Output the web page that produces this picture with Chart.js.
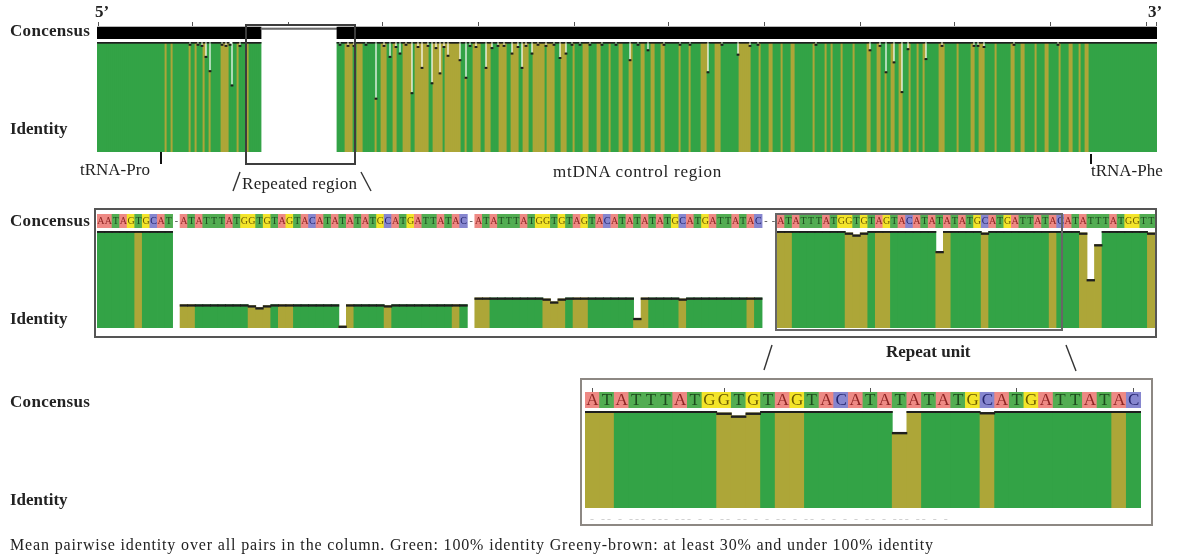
<!DOCTYPE html>
<html lang="en">
<head>
<meta charset="UTF-8">
<title>mtDNA control region identity</title>
<style>
    body { margin: 0; background: #fff; font-family: "Liberation Serif", "Times New Roman", serif; color: #222; }
    #page { position: relative; width: 1180px; height: 557px; overflow: hidden; }
    canvas { position: absolute; }
    .lbl { position: absolute; white-space: nowrap; line-height: 20px; font-size: 17px; }
    .b { font-weight: bold; }
    .box { position: absolute; box-sizing: border-box; }
    svg { position: absolute; left: 0; top: 0; }
</style>
</head>
<body>
<div id="page">
    <canvas id="ovCons" width="1060" height="17" style="left:97px;top:22px"></canvas>
    <canvas id="ovId" width="1060" height="110" style="left:97px;top:42px"></canvas>
    <canvas id="p2Cons" width="1058" height="14" style="left:97px;top:214px"></canvas>
    <canvas id="p2Id" width="1058" height="97" style="left:97px;top:231px"></canvas>
    <canvas id="p3Cons" width="556" height="20" style="left:585px;top:388px"></canvas>
    <canvas id="p3Id" width="556" height="97" style="left:585px;top:411px"></canvas>

    <div class="box" style="left:245px;top:24px;width:111px;height:141px;border:2px solid #3d3d3d"></div>
    <div class="box" style="left:94px;top:208px;width:1063px;height:130px;border:2px solid #555"></div>
    <div class="box" style="left:775px;top:213px;width:288px;height:118px;border:2px solid #666"></div>
    <div class="box" style="left:580px;top:378px;width:573px;height:148px;border:2px solid #8d8883"></div>

    <svg width="1180" height="557">
        <g stroke="#333" stroke-width="1.4" fill="none">
            <line x1="240" y1="172" x2="233" y2="191"/>
            <line x1="361" y1="172" x2="371" y2="191"/>
            <line x1="772" y1="345" x2="764" y2="370"/>
            <line x1="1066" y1="345" x2="1076" y2="371"/>
        </g>
        <g stroke="#111" stroke-width="2">
            <line x1="161" y1="152" x2="161" y2="164"/>
            <line x1="1091" y1="154" x2="1091" y2="164"/>
        </g>
    </svg>

    <div class="lbl b" style="left:95px;top:2px">5’</div>
    <div class="lbl b" style="left:1148px;top:2px">3’</div>
    <div class="lbl b" style="left:10px;top:21px;letter-spacing:0.3px">Concensus</div>
    <div class="lbl b" style="left:10px;top:119px">Identity</div>
    <div class="lbl" style="left:80px;top:160px">tRNA-Pro</div>
    <div class="lbl" style="left:242px;top:174px;letter-spacing:0.3px">Repeated region</div>
    <div class="lbl" style="left:553px;top:162px;letter-spacing:0.75px">mtDNA control region</div>
    <div class="lbl" style="left:1091px;top:161px">tRNA-Phe</div>
    <div class="lbl b" style="left:10px;top:211px;letter-spacing:0.3px">Concensus</div>
    <div class="lbl b" style="left:10px;top:309px">Identity</div>
    <div class="lbl b" style="left:886px;top:342px">Repeat unit</div>
    <div class="lbl b" style="left:10px;top:392px;letter-spacing:0.3px">Concensus</div>
    <div class="lbl b" style="left:10px;top:490px">Identity</div>
    <div class="lbl" style="left:590px;top:509px;font-size:12px;color:#cfcfcf;letter-spacing:2px">-  --  -  ---  ---  ---  -   -   --   --  -   -  --  -  --  -  -   -  -  --  -  ---  --  -   -</div>
    <div class="lbl" style="left:10px;top:535px;font-size:16px;letter-spacing:0.85px">Mean pairwise identity over all pairs in the column. Green: 100% identity Greeny-brown: at least 30% and under 100% identity</div>
</div>

<script src="https://cdn.jsdelivr.net/npm/chart.js"></script>
<script>
    // column classes: G = 100% identity, O = at least 30% and under 100%, '-' = gap in consensus
    const FILL = { G: '#33a346', O: '#ada638' };
    const baseFill = { A: '#ee8984', T: '#52ad52', G: '#f3e42a', C: '#8686cf' };
    const baseInk = { A: '#8e2422', T: '#1d4a1d', G: '#6a5a00', C: '#25256e' };

    // overview: runs of [class, number of columns], read left to right
    const overviewRuns = [
        ['G',34],['O',1],['G',2],['O',1],['G',8],['O',1],['G',2],['O',1],['G',3],['O',1],['G',2],['O',1],['G',5],['O',4],['G',4],['O',1],['G',4],['O',1],['G',6],
        ['-',38],
        ['G',4],['O',4],['G',2],['O',3],['G',6],['O',1],['G',2],['O',3],['G',3],['O',2],['G',3],['O',4],['G',2],['O',7],['G',2],['O',5],['G',1],['O',3],
        ['O',5],['G',2],['O',1],['G',3],['O',4],['G',2],['O',3],['G',4],['O',4],['G',2],['O',4],['G',2],['O',3],['G',2],['O',6],['G',1],
        ['O',4],['G',3],['O',3],['G',3],['O',1],['G',4],['O',3],['G',4],['O',2],['G',4],['O',1],['G',4],['O',2],['G',3],['O',2],['G',4],
        ['O',2],['G',3],['O',2],['G',3],['O',2],['G',7],['O',1],['G',4],['O',1],['G',5],['O',3],['G',4],['O',3],['G',9],['O',6],['G',4],
        ['O',1],['G',4],['O',2],['G',4],['O',1],['G',4],['O',2],['G',4],
        ['G',5],['O',1],['G',5],['O',1],['G',2],['O',1],['G',4],['O',1],['G',5],['O',1],['G',6],['O',2],['G',3],['O',2],['G',2],['O',1],
        ['G',2],['O',2],['G',2],['O',2],['G',3],['O',1],['G',3],['O',1],['G',2],['O',1],['G',7],['O',3],['G',6],['O',1],['G',6],['O',2],
        ['G',2],['O',3],['G',5],['O',1],['G',7],['O',2],['G',3],['O',2],['G',5],['O',1],['G',4],['O',2],['G',5],['O',1],['G',4],['O',2],
        ['G',3],['O',1],['G',2],['O',2],['G',34]
    ];
    // overview columns below 100% mean identity: [column, identity]
    const overviewDips = [
        [46,0.98],[50,0.98],[52,0.97],[54,0.87],[56,0.74],[62,0.98],[64,0.97],[66,0.98],[67,0.61],[71,0.97],
        [121,0.98],[125,0.97],[128,0.97],[134,0.98],[139,0.49],[143,0.97],[146,0.87],[149,0.96],[151,0.9],[154,0.98],
        [157,0.54],[160,0.96],[162,0.77],[165,0.97],[167,0.63],[169,0.95],[171,0.72],[173,0.96],[175,0.88],
        [181,0.84],[184,0.68],[186,0.97],[189,0.96],[194,0.77],[197,0.95],[200,0.97],[203,0.97],[207,0.9],[210,0.96],
        [212,0.77],[214,0.97],[217,0.9],[220,0.98],[224,0.97],[228,0.98],[231,0.86],[234,0.9],[237,0.98],[241,0.98],
        [246,0.98],[252,0.98],[259,0.98],[266,0.84],[270,0.98],[275,0.93],[283,0.98],[291,0.98],[296,0.98],[305,0.73],
        [312,0.98],[320,0.89],[326,0.97],[330,0.98],
        [359,0.98],[386,0.93],[391,0.97],[394,0.73],[398,0.82],[402,0.55],[405,0.94],[414,0.85],[422,0.97],
        [438,0.97],[440,0.97],[443,0.96],[458,0.98],[480,0.98]
    ];
    // ruler above the overview consensus, in alignment positions (bp)
    const alignmentLength = 1112;
    const rulerTicks = [0, 100, 200, 300, 400, 500, 600, 700, 800, 900, 1000, 1100, 1112];

    // repeated region, zoomed
    const p2Consensus = 'AATAGTGCAT-ATATTTATGGTGTAGTACATATATATGCATGATTATAC-ATATTTATGGTGTAGTACATATATATGCATGATTATAC--ATATTTATGGTGTAGTACATATATATGCATGATTATACATATTTATGGTT';
    const p2Classes = 'GGGGGOGGGG-OOGGGGGGGOOOGOOGGGGGGOOGGGGOGGGGGGGGOG-OOGGGGGGGOOOGOOGGGGGGOOGGGGOGGGGGGGGOG--OOGGGGGGGOOOGOOGGGGGGOOGGGGOGGGGGGGGOGGGOOOGGGGGGO';
    const p2Identity = [
        1, 1, 1, 1, 1, 1, 1, 1, 1, 1,
        null,
        0.24, 0.24, 0.24, 0.24, 0.24, 0.24, 0.24, 0.24, 0.24, 0.23, 0.21, 0.23, 0.24, 0.24, 0.24, 0.24, 0.24, 0.24, 0.24,
        0.24, 0.24, 0.02, 0.24, 0.24, 0.24, 0.24, 0.24, 0.23, 0.24, 0.24, 0.24, 0.24, 0.24, 0.24, 0.24, 0.24, 0.24, 0.24,
        null,
        0.31, 0.31, 0.31, 0.31, 0.31, 0.31, 0.31, 0.31, 0.31, 0.30, 0.27, 0.30, 0.31, 0.31, 0.31, 0.31, 0.31, 0.31, 0.31,
        0.31, 0.31, 0.10, 0.31, 0.31, 0.31, 0.31, 0.31, 0.30, 0.31, 0.31, 0.31, 0.31, 0.31, 0.31, 0.31, 0.31, 0.31, 0.31,
        null, null,
        1, 1, 1, 1, 1, 1, 1, 1, 1, 0.98, 0.96, 0.98, 1, 1, 1, 1, 1, 1, 1,
        1, 1, 0.79, 1, 1, 1, 1, 1, 0.98, 1, 1, 1, 1, 1, 1, 1, 1, 1, 1,
        1, 1, 0.98, 0.5, 0.86, 1, 1, 1, 1, 1, 1, 0.98
    ];

    // repeat unit, zoomed
    const p3Consensus = 'ATATTTATGGTGTAGTACATATATATGCATGATTATAC';
    const p3Classes = 'OOGGGGGGGOOOGOOGGGGGGOOGGGGOGGGGGGGGOG';
    const p3Identity = [
        1, 1, 1, 1, 1, 1, 1, 1, 1, 0.98, 0.95, 0.98, 1, 1, 1, 1, 1, 1, 1,
        1, 1, 0.78, 1, 1, 1, 1, 1, 0.985, 1, 1, 1, 1, 1, 1, 1, 1, 1, 1
    ];
    const p3RulerTicks = [1, 10, 20, 30, 38];

    const ovClasses = [];
    overviewRuns.forEach(([c, n]) => { for (let k = 0; k < n; k++) ovClasses.push(c); });
    const ovIdentity = ovClasses.map(c => (c === '-' ? null : 1));
    overviewDips.forEach(([i, v]) => { ovIdentity[i] = v; });
    // column that each ruler position falls in
    const ovRulerCols = rulerTicks.map(bp => Math.min(ovClasses.length - 1, Math.floor(bp / alignmentLength * ovClasses.length)));

    const baseOptions = () => ({
        responsive: false,
        animation: false,
        events: [],
        layout: { padding: 0 },
        plugins: { legend: { display: false }, tooltip: { enabled: false } },
        scales: {
            x: { display: false },
            y: { display: false, min: 0, max: 1 }
        }
    });

    // top axis that only shows tick marks at the given columns
    const rulerAxis = (cols, len) => ({
        display: true,
        position: 'top',
        afterFit: s => { s.height = len; },
        ticks: { display: false },
        grid: {
            offset: false,
            drawOnChartArea: false,
            drawTicks: true,
            tickLength: len,
            lineWidth: 1,
            color: ctx => (cols.includes(ctx.index) ? '#555' : 'rgba(0,0,0,0)')
        },
        border: { display: false }
    });

    // draws the consensus letters at the centre of each column
    const letterPlugin = {
        id: 'letters',
        afterDatasetsDraw(chart, args, opts) {
            const { ctx, chartArea } = chart;
            const x = chart.scales.x;
            const yMid = (chartArea.top + chartArea.bottom) / 2 + (opts.dy || 0);
            ctx.save();
            ctx.font = opts.font;
            ctx.textAlign = 'center';
            ctx.textBaseline = 'middle';
            for (let i = 0; i < opts.seq.length; i++) {
                const c = opts.seq[i];
                ctx.fillStyle = c === '-' ? '#444' : baseInk[c];
                ctx.fillText(c, x.getPixelForValue(i), yMid);
            }
            ctx.restore();
        }
    };

    // identity bars plus a thin dark mark sitting on the top of each bar
    function identityChart(id, classes, values, markPx, heightPx) {
        const cls = Array.from(classes);
        const t = markPx / heightPx;
        return new Chart(document.getElementById(id), {
            type: 'bar',
            data: {
                labels: cls.map((c, i) => i + 1),
                datasets: [{
                    data: values,
                    backgroundColor: cls.map(c => FILL[c] || 'rgba(0,0,0,0)'),
                    borderWidth: 0,
                    grouped: false,
                    order: 2,
                    categoryPercentage: 1,
                    barPercentage: 1,
                    inflateAmount: 0.4
                }, {
                    data: values.map(v => (v === null ? null : [v - t, v])),
                    backgroundColor: '#1e1e1e',
                    borderWidth: 0,
                    grouped: false,
                    order: 1,
                    categoryPercentage: 1,
                    barPercentage: 1,
                    inflateAmount: 0.4
                }]
            },
            options: baseOptions()
        });
    }

    function sequenceChart(id, seq, font, xAxis) {
        const s = Array.from(seq);
        const opts = baseOptions();
        opts.plugins.letters = { seq: s, font: font, dy: 0.5 };
        if (xAxis) opts.scales.x = xAxis;
        return new Chart(document.getElementById(id), {
            type: 'bar',
            data: {
                labels: s.map((c, i) => i + 1),
                datasets: [{
                    data: s.map(c => (c === '-' ? null : 1)),
                    backgroundColor: s.map(c => baseFill[c] || 'rgba(0,0,0,0)'),
                    borderWidth: 0,
                    categoryPercentage: 1,
                    barPercentage: 1,
                    inflateAmount: 0.4
                }]
            },
            options: opts,
            plugins: [letterPlugin]
        });
    }

    // overview consensus bar with the position ruler on top
    const ovConsOpts = baseOptions();
    ovConsOpts.scales.y.max = 1.1;
    ovConsOpts.scales.x = rulerAxis(ovRulerCols, 4);
    new Chart(document.getElementById('ovCons'), {
        type: 'bar',
        data: {
            labels: ovClasses.map((c, i) => i + 1),
            datasets: [{
                data: ovClasses.map(c => (c === '-' ? [0.82, 0.92] : [0, 1])),
                backgroundColor: ovClasses.map(c => (c === '-' ? '#6d6d6d' : '#000')),
                borderWidth: 0,
                categoryPercentage: 1,
                barPercentage: 1,
                inflateAmount: 0.4
            }]
        },
        options: ovConsOpts
    });
    identityChart('ovId', ovClasses, ovIdentity, 1.2, 110);

    sequenceChart('p2Cons', p2Consensus, '10px "Liberation Serif"');
    identityChart('p2Id', p2Classes, p2Identity, 1.5, 97);

    sequenceChart('p3Cons', p3Consensus, '17px "Liberation Serif"', rulerAxis(p3RulerTicks.map(p => p - 1), 4));
    identityChart('p3Id', p3Classes, p3Identity, 1.6, 97);
</script>
</body>
</html>
